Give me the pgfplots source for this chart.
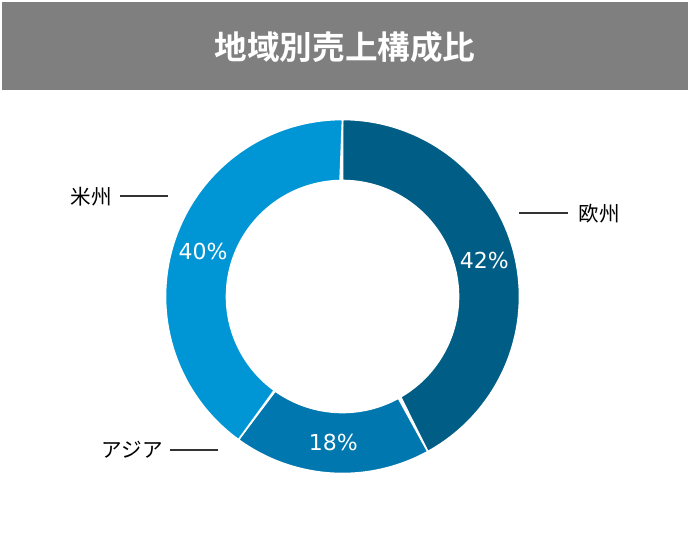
\documentclass[border=0pt]{standalone}
\usepackage{pgfplots}
\pgfplotsset{compat=1.18}
\usepackage{pgfplotstable}
\usepackage{fontspec}
\setmainfont{DejaVu Sans}
\newfontfamily\jp{Noto Sans CJK JP}[BoldFont={Noto Sans CJK JP Bold}]
\definecolor{cEU}{HTML}{005E86}
\definecolor{cAS}{HTML}{0077AE}
\definecolor{cAM}{HTML}{0096D6}
\definecolor{titlegray}{HTML}{7F7F7F}
\definecolor{linegray}{HTML}{333333}
% region share (%)
\pgfplotstableread{
region value
EU 42
AS 18
AM 40
}\shares
\pgfplotstablegetelem{0}{value}\of\shares \let\vEU\pgfplotsretval
\pgfplotstablegetelem{1}{value}\of\shares \let\vAS\pgfplotsretval
\pgfplotstablegetelem{2}{value}\of\shares \let\vAM\pgfplotsretval
\pgfmathsetmacro\aA{90}
\pgfmathsetmacro\aB{\aA-3.6*\vEU}
\pgfmathsetmacro\aC{\aB-3.6*\vAS}
\pgfmathsetmacro\aD{\aC-3.6*\vAM}
\def\cx{342.5}\def\cy{296.5}\def\Ro{177}\def\Ri{116}\def\Rm{146.5}
\newcommand\sector[3]{%
  \addplot[fill=#3, draw=white, line width=0.8pt, domain=0:2, samples=241, variable=\t]
  ({\cx + ifthenelse(\t<1,\Ro,\Ri)*cos(ifthenelse(\t<1,#1+(#2-#1)*\t,#2+(#1-#2)*(\t-1)))},
   {\cy - ifthenelse(\t<1,\Ro,\Ri)*sin(ifthenelse(\t<1,#1+(#2-#1)*\t,#2+(#1-#2)*(\t-1)))}) -- cycle;
}
\begin{document}
\begin{tikzpicture}
\begin{axis}[x=0.5pt, y=0.5pt, y dir=reverse, xmin=0, xmax=690, ymin=0, ymax=552,
  hide axis, clip=false]
\fill[white] (axis cs:0,0) rectangle (axis cs:690,552);
\fill[titlegray] (axis cs:2,2) rectangle (axis cs:688,90);
\node[text=white, font=\jp\bfseries\fontsize{16.3}{18}\selectfont] at (axis cs:345,47) {地域別売上構成比};
\sector{\aA}{\aB}{cEU}
\sector{\aB}{\aC}{cAS}
\sector{\aC}{\aD}{cAM}
\pgfmathsetmacro\mA{(\aA+\aB)/2}
\pgfmathsetmacro\mB{(\aB+\aC)/2}
\pgfmathsetmacro\mC{(\aC+\aD)/2}
\node[text=white, font=\fontsize{11}{13}\selectfont] at (axis cs:{\cx+\Rm*cos(\mA)},{\cy-\Rm*sin(\mA)}) {\vEU\%};
\node[text=white, font=\fontsize{11}{13}\selectfont] at (axis cs:{\cx+\Rm*cos(\mB)},{\cy-\Rm*sin(\mB)}) {\vAS\%};
\node[text=white, font=\fontsize{11}{13}\selectfont] at (axis cs:{\cx+\Rm*cos(\mC)},{\cy-\Rm*sin(\mC)}) {\vAM\%};
% labels and leader lines
\draw[linegray, line width=0.6pt] (axis cs:120,196) -- (axis cs:168,196);
\node[anchor=east, inner sep=0pt, font=\jp\fontsize{10.3}{12}\selectfont] at (axis cs:112,197) {米州};
\draw[linegray, line width=0.6pt] (axis cs:519,213) -- (axis cs:568,213);
\node[anchor=west, inner sep=0pt, font=\jp\fontsize{10.3}{12}\selectfont] at (axis cs:578,214) {欧州};
\draw[linegray, line width=0.6pt] (axis cs:170,450) -- (axis cs:218,450);
\node[anchor=east, inner sep=0pt, font=\jp\fontsize{10.3}{12}\selectfont] at (axis cs:163,450) {アジア};
\end{axis}
\end{tikzpicture}
\end{document}
